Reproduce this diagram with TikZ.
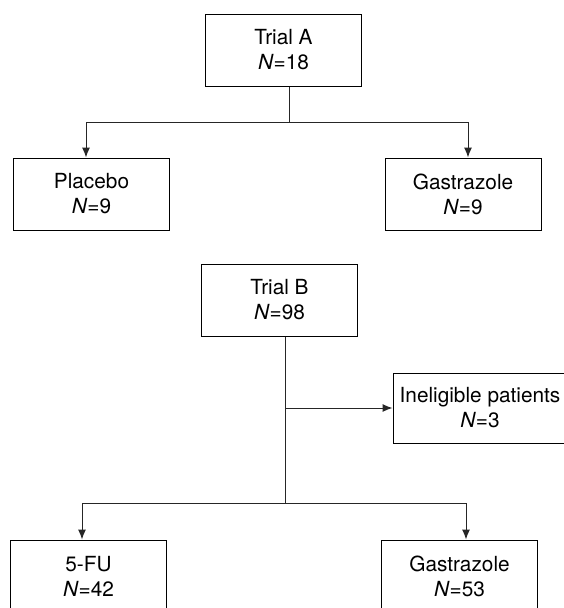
\documentclass[tikz,border=0pt]{standalone}
\usepackage{fontspec}
\setmainfont{TeX Gyre Heros}
\usetikzlibrary{arrows.meta}

\begin{document}
\begin{tikzpicture}[x=1pt,y=-1pt,
    every node/.style={font=\fontsize{20.8}{25}\selectfont},
    box/.style={draw, line width=1pt, align=center, minimum width=156pt, minimum height=72pt, inner sep=0pt},
    link/.style={line width=1pt, black!85},
    arr/.style={link, -{Latex[length=10pt,width=8pt]}}]
  \useasboundingbox (0,0) rectangle (564,608);
  % trial A
  \node[box] (trialA) at (283.5,50) {Trial A\\\textit{N}=18};
  \node[box] (placebo) at (91.5,194) {Placebo\\\textit{N}=9};
  \node[box] (gastroA) at (463,194) {Gastrazole\\\textit{N}=9};
  \coordinate (junA) at (289,122);
  \draw[link] (trialA.south -| junA) -- (junA);
  \draw[arr] (junA) -| ([xshift=-5.5pt]placebo.north);
  \draw[arr] (junA) -| ([xshift=5pt]gastroA.north);
  % trial B
  \node[box] (trialB) at (279.5,300) {Trial B\\\textit{N}=98};
  \node[box, minimum width=174pt, minimum height=70pt] (inelig) at (480,408) {Ineligible patients\\\textit{N}=3};
  \node[box] (fu) at (88.5,576) {5-FU\\\textit{N}=42};
  \node[box] (gastroB) at (459.5,576) {Gastrazole\\\textit{N}=53};
  \coordinate (junB) at (285,503);
  \draw[link] (trialB.south -| junB) -- (junB);
  \draw[arr] (junB |- inelig.west) -- (inelig.west);
  \draw[arr] (junB) -| ([xshift=-6.5pt]fu.north);
  \draw[arr] (junB) -| ([xshift=6.5pt]gastroB.north);
\end{tikzpicture}
\end{document}
